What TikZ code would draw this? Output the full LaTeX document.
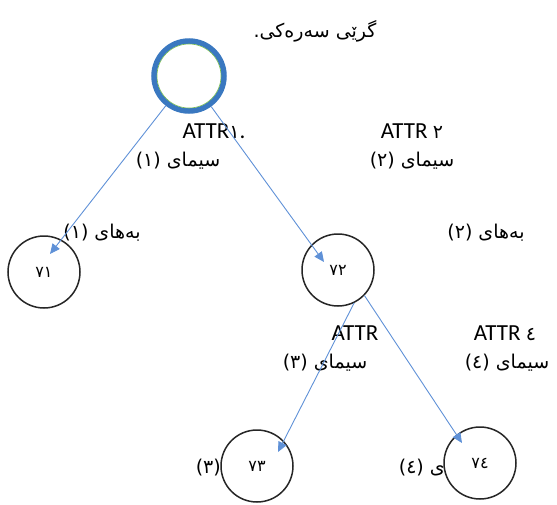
\documentclass[tikz,border=0pt]{standalone}
\usepackage{fontspec}
\setmainfont{Carlito}
\newfontfamily\arabicfont[Script=Arabic]{DejaVu Sans}
\TeXXeTstate=1
\usetikzlibrary{arrows.meta}
\definecolor{rootblue}{RGB}{58,120,192}
\definecolor{rootgreen}{RGB}{120,190,80}
\definecolor{arrowblue}{RGB}{95,145,215}
\tikzset{
  vnode/.style={circle, draw=black!85, line width=1.5pt, minimum size=72pt, inner sep=0pt, font=\arabicfont\fontsize{16}{16}\selectfont},
  rootnode/.style={circle, draw=rootblue, line width=5.5pt, fill=white, minimum size=70pt, inner sep=0pt},
  attr/.style={font=\fontsize{23}{23}\selectfont, inner sep=0pt},
  ktext/.style={font=\arabicfont\fontsize{19}{19}\selectfont, inner sep=0pt},
  conn/.style={draw=arrowblue, line width=0.9pt, -{Triangle[length=10pt,width=9pt]}}
}
\begin{document}
\begin{tikzpicture}[x=1pt,y=-1pt]
\useasboundingbox (0,0) rectangle (557,504);
% root
\node[rootnode] (root) at (189,76) {};
\draw[rootgreen, line width=0.6pt] (root.center) circle (32);
\node[ktext] (title) at (315,31) {.\beginR گرێی سەرەکی\endR};
% children
\node[vnode] (v1) at (44,272) {٧١};
\node[vnode] (v2) at (338,270) {٧٢};
\node[vnode] (v3) at (257,466) {٧٣};
\node[vnode] (v4) at (480,463) {٧٤};
% labels
\node[attr] (a1) at (214,131) {ATTR{\arabicfont\fontsize{19}{19}\selectfont ١}.};
\node[ktext] (s1) at (178,161) {(١) \beginR سیمای\endR};
\node[attr] (a2) at (412,131) {ATTR {\arabicfont\fontsize{19}{19}\selectfont ٢}};
\node[ktext] (s2) at (412,161) {(٢) \beginR سیمای\endR};
\node[ktext] (b1) at (102,233) {(١) \beginR بەهای\endR};
\node[ktext] (b2) at (486,233) {(٢) \beginR بەهای\endR};
\node[attr] (a3) at (355,333) {ATTR};
\node[ktext] (s3) at (325,363) {(٣) \beginR سیمای\endR};
\node[attr] (a4) at (505,333) {ATTR {\arabicfont\fontsize{19}{19}\selectfont ٤}};
\node[ktext] (s4) at (507,363) {(٤) \beginR سیمای\endR};
\node[ktext, anchor=east] (p3) at (221,468) {(٣)};
\node[ktext, anchor=east] (p4) at (445,468) {(٤) \beginR ی\endR};
% arrow ends
\coordinate (e1) at (50,254);
\coordinate (e2) at (324,262);
\coordinate (e3) at (278,452);
\coordinate (e4) at (462,443);
% connectors
\draw[conn] (root) -- (e1);
\draw[conn] (root) -- (e2);
\draw[conn] (v2.-64) -- (e3);
\draw[conn] (v2.-44) -- (e4);
\end{tikzpicture}
\end{document}
